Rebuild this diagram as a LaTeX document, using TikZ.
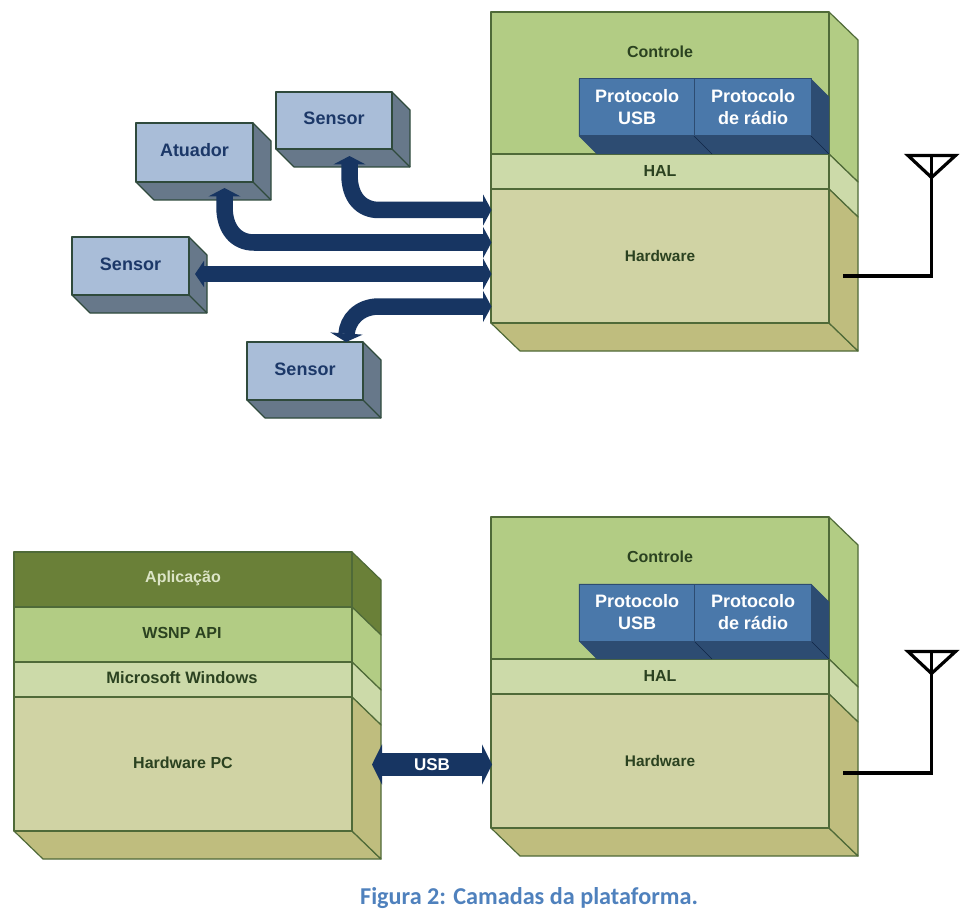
\documentclass[tikz,border=0pt]{standalone}
\usepackage{fontspec}
\setmainfont{Liberation Sans}
\newfontfamily\capfont{Carlito}
\usetikzlibrary{arrows.meta}
\definecolor{edgegreen}{HTML}{4F6A38}
\definecolor{ctlface}{HTML}{B2CC84}
\definecolor{halface}{HTML}{CCDAA9}
\definecolor{hwface}{HTML}{D0D3A4}
\definecolor{hwside}{HTML}{BFBD7E}
\definecolor{appface}{HTML}{6A8038}
\definecolor{protoface}{HTML}{4A78AA}
\definecolor{protoside}{HTML}{2D4C72}
\definecolor{devface}{HTML}{A9BDD8}
\definecolor{devside}{HTML}{67788A}
\definecolor{devedge}{HTML}{2F4A3C}
\definecolor{busblue}{HTML}{173562}
\definecolor{greentext}{HTML}{2B4220}
\definecolor{bluetext}{HTML}{1C3868}
\definecolor{captionblue}{HTML}{4F81BD}
\definecolor{apptext}{HTML}{DCE4C6}
\tikzset{
  x=1pt,y=-1pt,
  face/.style={draw=edgegreen,line width=1.2pt,line join=round},
  devbox/.style={draw=devedge,line width=1.2pt,line join=round},
  protobox/.style={draw=protoside,line width=1pt,line join=round},
  layertext/.style={font=\bfseries\fontsize{16}{19}\selectfont,text=greentext,inner sep=0pt,align=center},
  prototext/.style={font=\bfseries\fontsize{18}{22}\selectfont,text=white,inner sep=0pt,align=center},
  devtext/.style={font=\bfseries\fontsize{18}{20}\selectfont,text=bluetext,inner sep=0pt},
  bus/.style={draw=busblue,line width=16.5pt},
  tipboth/.style={{Triangle[width=32pt,length=8.5pt]}-{Triangle[width=31pt,length=8.5pt]}},
  tipflat/.style={{Triangle[width=26pt,length=9pt]}-{Triangle[width=31pt,length=8.5pt]}},
  usbbus/.style={draw=busblue,line width=23pt,{Triangle[width=40pt,length=10pt]}-{Triangle[width=40pt,length=10pt]}},
  aerial/.style={draw=black,line width=3.2pt,line join=miter},
}
% one layer of a stack: front face and right-hand side face
\newcommand{\layer}[6]{%
  \path[face,fill=#5] (#2,#3) -- (#2+29,#3+28) -- (#2+29,#4+28) -- (#2,#4) -- cycle;
  \path[face,fill=#6] (#1,#3) rectangle (#2,#4);
}
% stack floor
\newcommand{\floorface}[3]{%
  \path[face,fill=hwside] (#1,#3) -- (#2,#3) -- (#2+29,#3+28) -- (#1+29,#3+28) -- cycle;
}
% device block with its label
\newcommand{\device}[6]{%
  \path[devbox,fill=devside] (#2,#3) -- (#4,#3) -- (#4+18,#3+18) -- (#4+18,#5+18) -- (#2+18,#5+18) -- (#2,#5) -- cycle;
  \path[devbox] (#4,#5) -- (#4+18,#5+18);
  \path[devbox,fill=devface] (#2,#3) rectangle (#4,#5);
  \node[devtext] (#1) at ({(#2+#4)/2},{(#3+#5)/2-2}) {#6};
}
% node stack with radio; #2 shifts the stack, #3 and #4 give the aerial's top and feed heights
\newcommand{\radiostack}[4]{%
  \begin{scope}[yshift=#2]
    \floorface{491}{829}{323}
    \layer{491}{829}{12}{154}{ctlface}{ctlface}
    \layer{491}{829}{154}{189}{halface}{halface}
    \layer{491}{829}{189}{323}{hwside}{hwface}
    \path[draw=protoside,fill=protoside] (579,79) -- (811,79) -- (829,97) -- (829,154) -- (597,154) -- (579,136) -- cycle;
    \path[draw=busblue!70!black,line width=.6pt] (694,136) -- (712,154) (811,136) -- (829,154);
    \path[protobox,fill=protoface] (579,79) rectangle (694,136);
    \path[protobox,fill=protoface] (694,79) rectangle (811,136);
    \node[layertext] (ctl#1) at (660,52) {Controle};
    \node[layertext] (hal#1) at (660,171) {HAL};
    \node[layertext,font=\bfseries\fontsize{15.4}{19}\selectfont] (hw#1) at (660,256) {Hardware};
    \node[prototext] (usb#1) at (637,107) {Protocolo\\USB};
    \node[prototext] (radio#1) at (753,107) {Protocolo\\de rádio};
    \coordinate (feed#1) at (843,#4);
    \coordinate (mast#1) at (931.5,#4);
    \coordinate (apex#1) at (931.5,#3+22);
    \coordinate (armL#1) at (908,#3);
    \coordinate (armR#1) at (955.5,#3);
    \coordinate (mid#1) at (931.5,#3);
    \draw[aerial] (feed#1) -- (mast#1) -- (apex#1);
    \draw[aerial] (apex#1) -- (armL#1) -- (armR#1) -- cycle;
    \draw[aerial,line width=2.4pt] (apex#1) -- (mid#1);
  \end{scope}
}
\begin{document}
\begin{tikzpicture}
  \useasboundingbox (0,0) rectangle (960,917);
  \fill[white] (0,0) rectangle (960,917);

  \radiostack{a}{0pt}{155.5}{276}
  \radiostack{b}{-505pt}{146.5}{268}

  % peripheral devices
  \device{sensorA}{276}{92}{392}{149}{Sensor}
  \device{atuador}{136}{123}{253}{182}{Atuador}
  \device{sensorB}{72}{237}{189}{295}{Sensor}
  \device{sensorC}{247}{342}{363}{400}{Sensor}

  % connection points on the devices and on the hardware layer
  \coordinate (pinA) at (349.5,156);
  \coordinate (pinT) at (224.5,188);
  \coordinate (pinB) at (195,274);
  \coordinate (pinC) at (346,342);
  \coordinate (hwA) at (491.5,210);
  \coordinate (hwT) at (491.5,242.5);
  \coordinate (hwB) at (491.5,274);
  \coordinate (hwC) at (491.5,306.5);

  \draw[bus,tipboth] (pinA) -- (349.5,175) .. controls (349.5,197) and (361,210) .. (379,210) -- (hwA);
  \draw[bus,tipboth] (pinT) -- (224.5,207) .. controls (224.5,229) and (236,242.5) .. (254,242.5) -- (hwT);
  \draw[bus,tipflat] (pinB) -- (hwB);
  \draw[bus,tipboth] (pinC) .. controls (347.5,320) and (359,306.5) .. (379,306.5) -- (hwC);

  % personal computer stack
  \floorface{14}{352}{831}
  \layer{14}{352}{552}{607}{appface}{appface}
  \layer{14}{352}{607}{662}{ctlface}{ctlface}
  \layer{14}{352}{662}{697}{halface}{halface}
  \layer{14}{352}{697}{831}{hwside}{hwface}
  \node[layertext,text=apptext] (app) at (183,578) {Aplicação};
  \node[layertext] (api) at (182,633) {WSNP API};
  \node[layertext,font=\bfseries\fontsize{16.5}{19}\selectfont] (win) at (182,678) {Microsoft Windows};
  \node[layertext] (pc) at (183,763) {Hardware PC};

  % link between the computer and the node
  \coordinate (pcport) at (372,764.5);
  \coordinate (nodeport) at (492,764.5);
  \draw[usbbus] (pcport) -- (nodeport)
    node[midway,font=\bfseries\fontsize{17}{20}\selectfont,text=white,inner sep=0pt] (usblabel) {USB};

  \node[font=\capfont\bfseries\fontsize{24.2}{28}\selectfont,text=captionblue,inner sep=0pt] (caption) at (529,898) {Figura 2: Camadas da plataforma.};
\end{tikzpicture}
\end{document}
